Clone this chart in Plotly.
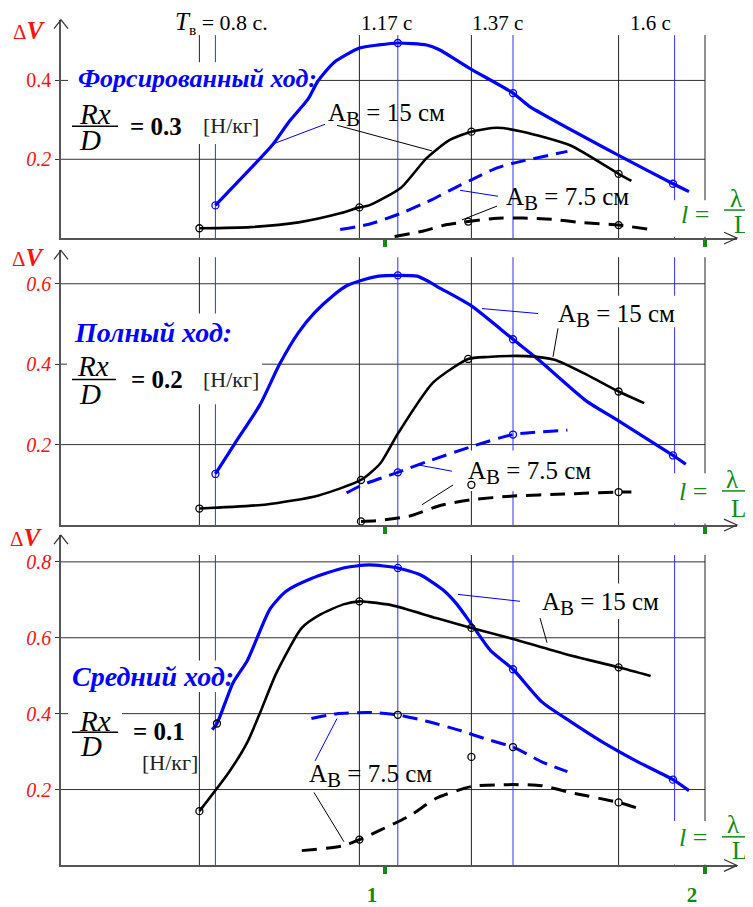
import plotly.graph_objects as go

PAGE_W, PAGE_H = 753, 907
OFF = 8                                  # body margin of the html page
W, H = PAGE_W - OFF, PAGE_H - OFF
FONT = "Liberation Serif, Times New Roman, serif"
BLUE = "#0000ff"
GREEN = "#138a13"
RED = "#ff1010"

# ---------------- data (x: l = λ/L, y: ΔV) ----------------
period_labels = ["<i><span style='font-size:25px'>T</span></i><sub>в</sub> = 0.8 с.", "1.17 с", "1.37 с", "1.6 с"]
period_l_black = [0.42, 0.92, 1.27, 1.73, 2.0]
period_l_blue = [0.47, 1.04, 1.40, 1.905]
l_ticks = [1, 2]
l_ticktext = ["<b>1</b>", "<b>2</b>"]

# panel 1: Форсированный ход, Rx/D = 0.3
forced_dv_ticks = [0.2, 0.4]
forced_dv_text = ["<i>0.2</i>", "0.4"]
forced_b15_l = [0.47, 0.59, 0.65, 0.70, 0.76, 0.79, 0.84, 0.92, 0.98, 1.04, 1.13, 1.17, 1.27, 1.40, 1.45, 1.73, 1.90, 1.95]
forced_b15_v = [0.083, 0.185, 0.238, 0.295, 0.353, 0.398, 0.445, 0.482, 0.49, 0.495, 0.49, 0.478, 0.428, 0.368, 0.335, 0.21, 0.138, 0.118]
forced_b15_pl = [0.47, 1.04, 1.40, 1.90]
forced_b15_pv = [0.083, 0.495, 0.368, 0.138]
forced_k15_l = [0.42, 0.58, 0.73, 0.86, 0.92, 0.95, 1.05, 1.13, 1.20, 1.27, 1.35, 1.43, 1.58, 1.73, 1.77]
forced_k15_v = [0.025, 0.028, 0.04, 0.063, 0.078, 0.083, 0.128, 0.203, 0.248, 0.27, 0.28, 0.27, 0.235, 0.163, 0.145]
forced_k15_pl = [0.42, 0.92, 1.27, 1.73]
forced_k15_pv = [0.025, 0.078, 0.27, 0.163]
forced_b75_l = [0.86, 0.95, 1.05, 1.14, 1.20, 1.27, 1.35, 1.40, 1.57]
forced_b75_v = [0.022, 0.035, 0.063, 0.095, 0.12, 0.148, 0.178, 0.19, 0.22]
forced_k75_l = [1.03, 1.12, 1.19, 1.26, 1.34, 1.43, 1.52, 1.61, 1.73, 1.82]
forced_k75_v = [0.004, 0.018, 0.034, 0.042, 0.05, 0.051, 0.048, 0.04, 0.033, 0.023]
forced_k75_pl = [1.26, 1.73]
forced_k75_pv = [0.042, 0.033]

# panel 2: Полный ход, Rx/D = 0.2
full_dv_ticks = [0.2, 0.4, 0.6]
full_dv_text = ["<i>0.2</i>", "<i>0.4</i>", "<i>0.6</i>"]
full_b15_l = [0.47, 0.53, 0.61, 0.67, 0.73, 0.78, 0.84, 0.88, 0.92, 0.98, 1.04, 1.10, 1.14, 1.17, 1.27, 1.40, 1.48, 1.63, 1.73, 1.90, 1.94]
full_b15_v = [0.127, 0.202, 0.30, 0.399, 0.479, 0.528, 0.572, 0.595, 0.607, 0.619, 0.621, 0.619, 0.604, 0.59, 0.545, 0.462, 0.411, 0.308, 0.259, 0.173, 0.151]
full_b15_pl = [0.47, 1.04, 1.40, 1.90]
full_b15_pv = [0.127, 0.621, 0.462, 0.173]
full_k15_l = [0.42, 0.63, 0.79, 0.925, 0.985, 1.04, 1.15, 1.26, 1.32, 1.44, 1.53, 1.63, 1.73, 1.81]
full_k15_v = [0.041, 0.051, 0.073, 0.112, 0.153, 0.227, 0.354, 0.413, 0.418, 0.42, 0.411, 0.374, 0.332, 0.303]
full_k15_pl = [0.42, 0.925, 1.26, 1.73]
full_k15_pv = [0.041, 0.112, 0.413, 0.332]
full_b75_l = [0.88, 0.93, 1.04, 1.14, 1.27, 1.40, 1.57]
full_b75_v = [0.08, 0.10, 0.131, 0.16, 0.195, 0.225, 0.236]
full_b75_pl = [1.04, 1.40]
full_b75_pv = [0.131, 0.225]
full_k75_l = [0.925, 0.98, 1.08, 1.17, 1.27, 1.40, 1.56, 1.73, 1.77]
full_k75_v = [0.009, 0.011, 0.023, 0.048, 0.063, 0.072, 0.077, 0.082, 0.082]
full_k75_pl = [0.925, 1.27, 1.73]
full_k75_pv = [0.009, 0.10, 0.082]

# panel 3: Средний ход, Rx/D = 0.1
mid_dv_ticks = [0.2, 0.4, 0.6, 0.8]
mid_dv_text = ["<i>0.2</i>", "<i>0.4</i>", "<i>0.6</i>", "<i>0.8</i>"]
mid_b15_l = [0.46, 0.475, 0.525, 0.57, 0.64, 0.69, 0.77, 0.87, 0.95, 1.04, 1.11, 1.18, 1.225, 1.27, 1.33, 1.40, 1.49, 1.58, 1.68, 1.79, 1.90, 1.95]
mid_b15_v = [0.358, 0.374, 0.481, 0.54, 0.675, 0.722, 0.756, 0.784, 0.792, 0.784, 0.766, 0.727, 0.688, 0.636, 0.566, 0.517, 0.431, 0.379, 0.325, 0.273, 0.226, 0.197]
mid_b15_pl = [0.475, 1.04, 1.40, 1.90]
mid_b15_pv = [0.374, 0.784, 0.517, 0.226]
mid_k15_l = [0.42, 0.515, 0.57, 0.61, 0.66, 0.74, 0.80, 0.87, 0.92, 0.95, 1.02, 1.16, 1.27, 1.40, 1.56, 1.73, 1.83]
mid_k15_v = [0.143, 0.249, 0.325, 0.403, 0.506, 0.626, 0.662, 0.688, 0.696, 0.694, 0.686, 0.652, 0.626, 0.597, 0.558, 0.522, 0.499]
mid_k15_pl = [0.42, 0.92, 1.27, 1.73]
mid_k15_pv = [0.143, 0.696, 0.626, 0.522]
mid_b75_l = [0.77, 0.85, 0.95, 1.04, 1.13, 1.225, 1.32, 1.40, 1.49, 1.57]
mid_b75_v = [0.387, 0.40, 0.403, 0.397, 0.38, 0.358, 0.332, 0.312, 0.273, 0.247]
mid_b75_pl = [1.04, 1.40]
mid_b75_pv = [0.397, 0.312]
mid_k75_l = [0.74, 0.87, 0.92, 0.98, 1.08, 1.16, 1.27, 1.40, 1.49, 1.58, 1.73, 1.80]
mid_k75_v = [0.039, 0.052, 0.068, 0.091, 0.132, 0.177, 0.208, 0.213, 0.21, 0.192, 0.166, 0.148]
mid_k75_pl = [0.92, 1.27, 1.73]
mid_k75_pv = [0.068, 0.286, 0.166]

# ---------------- geometry (pixels of the 753x907 page) ----------------
X0_PX, L_PX = 65, 320                  # pixel of l=0, pixels per unit l
XMIN, XMAX = (61 - X0_PX) / L_PX, (737 - X0_PX) / L_PX
panels = [
    dict(s="", zero=241.5, k=400, top=20, gtop=0.515, ticks=forced_dv_ticks, text=forced_dv_text),
    dict(s="2", zero=532.6, k=408, top=254, gtop=0.666, ticks=full_dv_ticks, text=full_dv_text),
    dict(s="3", zero=878, k=385, top=543, gtop=0.818, ticks=mid_dv_ticks, text=mid_dv_text),
]


def pl(xp):
    return (xp - X0_PX) / L_PX


def pv(p, yp):
    return (p["zero"] - yp) / p["k"]


def fx(xp):
    return (xp - OFF) / W


def fy(yp):
    return 1 - (yp - OFF) / H


fig = go.Figure()
shapes = []
annotations = []

for p in panels:
    xr, yr = "x" + p["s"], "y" + p["s"]
    for v in p["ticks"]:
        shapes.append(dict(type="line", xref=xr, yref=yr, x0=XMIN, x1=2.0, y0=v, y1=v,
                           line=dict(color="#333", width=1), layer="below"))
    for l in period_l_black:
        shapes.append(dict(type="line", xref=xr, yref=yr, x0=l, x1=l, y0=0, y1=p["gtop"],
                           line=dict(color="#222", width=1), layer="below"))
    for l in period_l_blue:
        shapes.append(dict(type="line", xref=xr, yref=yr, x0=l, x1=l, y0=0, y1=p["gtop"],
                           line=dict(color="#3030ff", width=1), layer="below"))

# white boxes behind texts (pixel boxes), per panel index
boxes = [
    (0, 68, 63, 318, 146), (0, 668, 203, 753, 240),
    (1, 67, 318, 262, 410), (1, 668, 480, 753, 531), (1, 540, 300, 700, 332), (1, 455, 457, 605, 498),
    (2, 70, 670, 236, 702), (2, 68, 716, 122, 770), (2, 668, 833, 753, 877), (2, 528, 592, 672, 628),
]
for i, x0, y0, x1, y1 in boxes:
    p = panels[i]
    shapes.append(dict(type="rect", xref="x" + p["s"], yref="y" + p["s"],
                       x0=pl(x0), x1=pl(x1), y0=pv(p, y1), y1=pv(p, y0),
                       fillcolor="white", line=dict(width=0), layer="below"))

series = [
    (forced_b15_l, forced_b15_v, forced_b15_pl, forced_b15_pv, BLUE, "solid", 3.2, BLUE, 0),
    (forced_k15_l, forced_k15_v, forced_k15_pl, forced_k15_pv, "black", "solid", 2.6, "black", 0),
    (forced_b75_l, forced_b75_v, [], [], BLUE, "15px,8px", 3, BLUE, 0),
    (forced_k75_l, forced_k75_v, forced_k75_pl, forced_k75_pv, "black", "15px,9px", 3, "black", 0),
    (full_b15_l, full_b15_v, full_b15_pl, full_b15_pv, BLUE, "solid", 3.2, BLUE, 1),
    (full_k15_l, full_k15_v, full_k15_pl, full_k15_pv, "black", "solid", 2.6, "black", 1),
    (full_b75_l, full_b75_v, full_b75_pl, full_b75_pv, BLUE, "15px,8px", 3, BLUE, 1),
    (full_k75_l, full_k75_v, full_k75_pl, full_k75_pv, "black", "15px,9px", 3, "black", 1),
    (mid_b15_l, mid_b15_v, mid_b15_pl, mid_b15_pv, BLUE, "solid", 3.2, ["black", BLUE, BLUE, BLUE], 2),
    (mid_k15_l, mid_k15_v, mid_k15_pl, mid_k15_pv, "black", "solid", 2.6, "black", 2),
    (mid_b75_l, mid_b75_v, mid_b75_pl, mid_b75_pv, BLUE, "15px,8px", 3, "black", 2),
    (mid_k75_l, mid_k75_v, mid_k75_pl, mid_k75_pv, "black", "15px,9px", 3, "black", 2),
]
for xl, yv, ml, mv, col, dash, w, mcol, i in series:
    s = panels[i]["s"]
    fig.add_trace(go.Scatter(x=xl, y=yv, mode="lines", xaxis="x" + s, yaxis="y" + s,
                             line=dict(color=col, width=w, dash=dash, shape="spline", smoothing=0.6),
                             hoverinfo="skip"))
    if ml:
        fig.add_trace(go.Scatter(x=ml, y=mv, mode="markers", xaxis="x" + s, yaxis="y" + s,
                                 marker=dict(symbol="circle-open", size=7, color=mcol,
                                             line=dict(width=1.3, color=mcol)),
                                 hoverinfo="skip"))


def ann(text, x, y, size, color="black"):
    annotations.append(dict(text=text, x=fx(x), y=fy(y), xref="paper", yref="paper", showarrow=False,
                            xanchor="center", yanchor="middle",
                            font=dict(family=FONT, size=size, color=color)))


def seg(x0, y0, x1, y1, color="black", width=1):
    shapes.append(dict(type="line", xref="paper", yref="paper", x0=fx(x0), y0=fy(y0), x1=fx(x1), y1=fy(y1),
                       line=dict(color=color, width=width)))


def chevron(path_pts):
    d = "M" + " L".join(f"{fx(a):.5f},{fy(b):.5f}" for a, b in path_pts)
    shapes.append(dict(type="path", xref="paper", yref="paper", path=d, line=dict(color="#333", width=1.2)))


# period labels at the top
for txt, xc, size in zip(period_labels, [221, 386, 497, 650], [22, 21, 21, 21]):
    ann(txt, xc, 23, size)

# ΔV labels and arrows
for p, (cx, cy) in zip(panels, [(29, 31), (28, 261), (26, 545)]):
    ann("<span style='font-size:21px'>Δ</span><b><i>V</i></b>", cx, cy, 25, RED)
    chevron([(61 - 7, p["top"] + 9), (61, p["top"]), (61 + 7, p["top"] + 9)])
    z = p["zero"]
    chevron([(737 - 13, z - 6), (737, z), (737 - 13, z + 6)])

# headings
ann("<b><i>Форсированный ход:</i></b>", 197, 80, 26, BLUE)
ann("<b><i>Полный ход:</i></b>", 153, 337, 28, BLUE)
ann("<b><i>Средний ход:</i></b>", 153, 686, 28, BLUE)

# Rx / D = value [Н/кг]
for (rx, ry, dx, dy, bar, x0, x1), val, (vx, vy), (ux, uy) in zip(
        [(95, 116, 90, 142, 128, 72, 118), (93, 371, 90, 400, 385, 72, 116), (95, 731, 91, 757, 743, 72, 118)],
        ["0.3", "0.2", "0.1"],
        [(156, 128), (157, 385), (159, 742)],
        [(231, 127), (231, 385), (170, 774)]):
    ann("<i>Rx</i>", rx, ry, 29)
    ann("<i>D</i>", dx, dy, 29)
    seg(x0, bar, x1, bar, width=1.5)
    ann("<b>= " + val + "</b>", vx, vy, 25)
    ann("[Н/кг]", ux, uy, 22, "#222")

# amplitude labels
AB = "А<sub><span style='font-size:21px'>В</span></sub>"
for txt, xc, yc in [(AB + " = 15 см", 387, 117), (AB + " = 7.5 см", 567, 202),
                    (AB + " = 15 см", 616, 321), (AB + " = 7.5 см", 529, 480),
                    (AB + " = 15 см", 600, 613), (AB + " = 7.5 см", 370, 787)]:
    ann(txt, xc, yc, 25)

# leader lines
for x0, y0, x1, y1, c in [
        (273, 146, 325, 126, BLUE), (337, 127, 432, 153, "black"),
        (460, 193, 498, 199, BLUE), (497, 209, 462, 223, "black"),
        (482, 313, 538, 318, BLUE), (558, 333, 553, 362, "black"),
        (420, 472, 452, 478, BLUE), (453, 492, 422, 512, "black"),
        (458, 603, 520, 610, BLUE), (540, 627, 547, 652, "black"),
        (315, 772, 337, 729, BLUE), (314, 804, 344, 854, "black")]:
    seg(x0, y0, x1, y1, c, 1)

# l = λ / L
for (ex, ey), (lx, ly), (bx0, bx1, by), (Lx, Ly) in [
        ((695, 218), (736, 201), (724, 752, 213), (741, 228)),
        ((693, 499), (732, 486), (722, 750, 498), (738, 516)),
        ((693, 850), (733, 836), (722, 750, 849), (739, 863))]:
    ann("<i>l</i> =", ex, ey, 26, GREEN)
    ann("λ", lx, ly, 25, GREEN)
    ann("L", Lx, Ly, 25, GREEN)
    seg(bx0, by, bx1, by, GREEN, 1.5)

layout = dict(width=W, height=H, margin=dict(l=0, r=0, t=0, b=0), autosize=False,
              plot_bgcolor="white", paper_bgcolor="white", showlegend=False,
              shapes=shapes, annotations=annotations)
for p in panels:
    s = p["s"]
    layout["xaxis" + s] = dict(range=[XMIN, XMAX], domain=[fx(61), fx(737)], anchor="y" + s,
                               showgrid=False, zeroline=False, showline=True, linecolor="#555", linewidth=1.5,
                               tickvals=l_ticks, ticktext=l_ticktext, ticks="outside", ticklen=7, tickwidth=4,
                               tickcolor=GREEN, showticklabels=(s == "3"), ticklabelshift=-13,
                               ticklabelstandoff=3,
                               tickfont=dict(family=FONT, size=21, color=GREEN), fixedrange=True)
    layout["yaxis" + s] = dict(range=[0, (p["zero"] - p["top"]) / p["k"]],
                               domain=[fy(p["zero"]), fy(p["top"])], anchor="x" + s,
                               showgrid=False, zeroline=False, showline=True, linecolor="#555", linewidth=1.5,
                               tickvals=p["ticks"], ticktext=p["text"], ticks="outside", ticklen=4,
                               tickcolor="#333", tickfont=dict(family=FONT, size=20, color=RED),
                               fixedrange=True)
fig.update_layout(**layout)
fig.write_html("out.html")
